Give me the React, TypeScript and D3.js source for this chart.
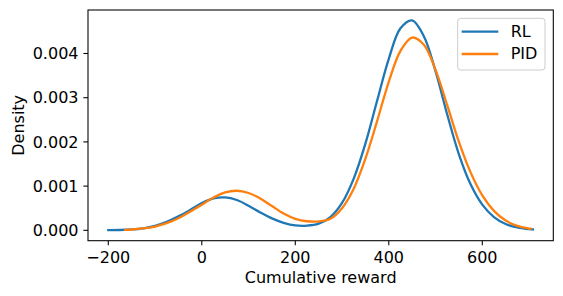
import React from "react";
import * as d3 from "d3";

const rlX = [-200, -175, -150, -125, -100, -75, -50, -25, 0, 25, 50, 75, 100, 125, 150, 175, 200, 225, 250, 275, 300, 325, 350, 375, 400, 425, 450, 475, 500, 525, 550, 575, 600, 625, 650, 675, 700, 708];
const rlY = [0.000003, 0.000007, 0.000019, 0.000046, 0.0001, 0.00019, 0.000315, 0.00046, 0.000615, 0.00072, 0.000744, 0.000685, 0.000555, 0.000405, 0.00027, 0.00017, 0.00011, 0.000105, 0.00015, 0.0003, 0.00062, 0.00117, 0.00196, 0.00293, 0.00388, 0.00457, 0.00475, 0.00439, 0.0036, 0.00262, 0.00172, 0.00104, 0.00058, 0.0003, 0.000143, 0.000064, 0.000027, 0.00002];

const pidX = [-164, -150, -125, -100, -75, -50, -25, 0, 25, 50, 75, 100, 125, 150, 175, 200, 225, 250, 275, 300, 325, 350, 375, 400, 425, 450, 475, 500, 525, 550, 575, 600, 625, 650, 675, 700, 703];
const pidY = [0.00001, 0.000018, 0.000042, 0.000086, 0.000162, 0.000274, 0.00042, 0.00058, 0.00074, 0.000858, 0.000895, 0.000844, 0.00072, 0.00055, 0.00038, 0.00026, 0.000205, 0.0002, 0.00026, 0.0005, 0.00094, 0.00162, 0.00247, 0.00336, 0.00406, 0.00436, 0.0042, 0.00363, 0.00283, 0.002, 0.00131, 0.00079, 0.00044, 0.00022, 0.0001, 0.00004, 0.000035];

const seriesNames = ["RL", "PID"];
const seriesColors = ["#1f77b4", "#ff7f0e"];
const xTicks = [-200, 0, 200, 400, 600];
const yTicks = [0, 0.001, 0.002, 0.003, 0.004];
const xLabel = "Cumulative reward";
const yLabel = "Density";

const W = 563;
const H = 296;
const L = 88, R = 553.3, T = 10, B = 240.7;
const FONT = "DejaVu Sans, sans-serif";

export default function App() {
  const x = d3.scaleLinear().domain([-243.4, 751.9]).range([L, R]);
  const y = d3.scaleLinear().domain([-0.000235, 0.004984]).range([B, T]);
  const line = d3
    .line<[number, number]>()
    .x((d) => x(d[0]))
    .y((d) => y(d[1]))
    .curve(d3.curveCatmullRom.alpha(0.5));
  const series = [
    rlX.map((v, i) => [v, rlY[i]] as [number, number]),
    pidX.map((v, i) => [v, pidY[i]] as [number, number]),
  ];
  const fmtX = (v: number) => (v < 0 ? "\u2212" + Math.abs(v) : String(v));
  const fmtY = d3.format(".3f");

  return (
    <svg width={W} height={H} style={{ position: "absolute", left: 0, top: 0 }} fontFamily={FONT}>
      <rect x={0} y={0} width={W} height={H} fill="#fff" />
      {series.map((s, i) => (
        <path key={i} d={line(s) || ""} fill="none" stroke={seriesColors[i]} strokeWidth={2.3} strokeLinecap="square" strokeLinejoin="round" />
      ))}
      <rect x={L} y={T} width={R - L} height={B - T} fill="none" stroke="#000" strokeWidth={1.07} />
      {xTicks.map((t) => (
        <g key={t}>
          <line x1={x(t)} x2={x(t)} y1={B} y2={B + 4.67} stroke="#000" strokeWidth={1.07} />
          <text x={x(t)} y={263} textAnchor="middle" fontSize={16} fill="#000">
            {fmtX(t)}
          </text>
        </g>
      ))}
      {yTicks.map((t) => (
        <g key={t}>
          <line x1={L - 4.67} x2={L} y1={y(t)} y2={y(t)} stroke="#000" strokeWidth={1.07} />
          <text x={78.5} y={y(t)} dy="0.36em" textAnchor="end" fontSize={16} fill="#000">
            {fmtY(t)}
          </text>
        </g>
      ))}
      <text x={(L + R) / 2} y={282.5} textAnchor="middle" fontSize={16} fill="#000">
        {xLabel}
      </text>
      <text transform={`translate(23.5,${(T + B) / 2}) rotate(-90)`} textAnchor="middle" fontSize={16} fill="#000">
        {yLabel}
      </text>
      <rect x={457.7} y={18.3} width={87.3} height={51.7} rx={3} ry={3} fill="#fff" fillOpacity={0.8} stroke="#cccccc" strokeWidth={1} />
      {seriesNames.map((n, i) => (
        <g key={n}>
          <line x1={461.7} x2={498.3} y1={31.7 + i * 22.3} y2={31.7 + i * 22.3} stroke={seriesColors[i]} strokeWidth={2.3} />
          <text x={510.7} y={37 + i * 22.3} fontSize={16} fill="#000">
            {n}
          </text>
        </g>
      ))}
    </svg>
  );
}
